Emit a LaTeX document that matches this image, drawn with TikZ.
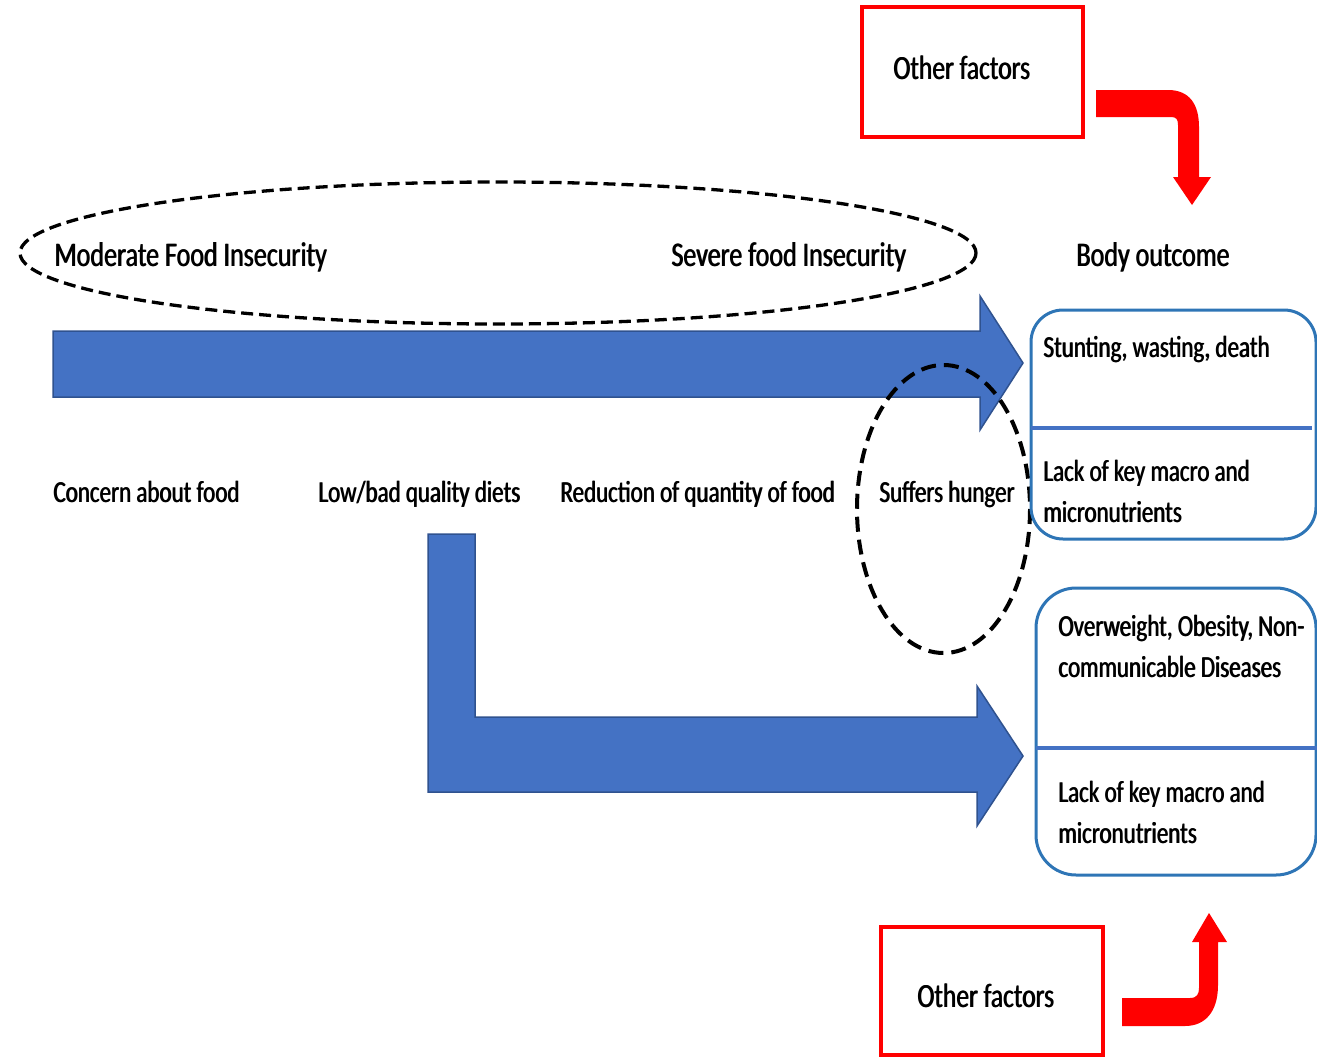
\documentclass[tikz,border=0pt]{standalone}
\usepackage{fontspec}
\setmainfont{Carlito}
\usepackage{graphicx}
\definecolor{blockblue}{HTML}{4472C4}
\definecolor{blockedge}{HTML}{2F528F}
\definecolor{boxblue}{HTML}{2E75B6}
\newcommand{\heavy}[1]{\rlap{#1}\kern0.8pt#1}
\newcommand{\stt}[1]{\scalebox{1}[1.33]{\heavy{#1}}}
\newcommand{\twoline}[2]{\scalebox{1}[1.33]{\vbox{\baselineskip=30.5pt\hbox{\heavy{#1}}\hbox{\heavy{#2}}}}}
\tikzset{
  lbl/.style={inner sep=0pt, anchor=base west, font=\fontsize{23}{28}\selectfont},
  head/.style={inner sep=0pt, anchor=base west, font=\fontsize{26}{31}\selectfont},
  factor/.style={inner sep=0pt, anchor=base west, font=\fontsize{25.5}{30}\selectfont},
  blockarrow/.style={fill=blockblue, draw=blockedge, line width=1.5pt},
  redarrow/.style={fill=red, draw=none},
  redbox/.style={draw=red, line width=3.5pt},
  outbox/.style={draw=boxblue, line width=3pt},
  divider/.style={draw=blockblue, line width=3.5pt},
  dashring/.style={draw=black, line width=3.3pt, dash pattern=on 12pt off 6pt},
  dashcircle/.style={draw=black, line width=4pt, dash pattern=on 15pt off 8pt},
}
\begin{document}
\begin{tikzpicture}[x=1pt, y=-1pt]
\useasboundingbox (0,0) rectangle (1317,1057);

% top other factors
\draw[redbox] (862,7) rectangle (1083,137);
\node[factor] (of1) at (893,80) {\stt{Other factors}};
\fill[redarrow] (1096,90) -- (1168,90) .. controls (1190,90) and (1199,105) .. (1199,127)
  -- (1199,177) -- (1211,177) -- (1192,205) -- (1173,177) -- (1178,177) -- (1178,125)
  .. controls (1178,119) and (1176,117) .. (1171,117) -- (1096,117) -- cycle;

% dashed ellipse with headings
\draw[dashring] (498,253) ellipse [x radius=478, y radius=71];
\node[head] (mod) at (54,266) {\stt{Moderate Food Insecurity}};
\node[head] (sev) at (671,266) {\stt{Severe food Insecurity}};
\node[head] (body) at (1076,266) {\stt{Body outcome}};

% top blue arrow
\draw[blockarrow] (53,331) -- (980,331) -- (980,296) -- (1023,363) -- (980,430)
  -- (980,397) -- (53,397) -- cycle;

% L shaped blue arrow
\draw[blockarrow] (428,534) -- (475,534) -- (475,717) -- (977,717) -- (977,686)
  -- (1023,756) -- (977,826) -- (977,792) -- (428,792) -- cycle;

% row labels
\node[lbl] (concern) at (53,502) {\stt{Concern about food}};
\node[lbl] (lowbad) at (318,502) {\stt{Low/bad quality diets}};
\node[lbl] (reduc) at (560,502) {\stt{Reduction of quantity of food}};
\node[lbl] (hunger) at (879,502) {\stt{Suffers hunger}};

% dashed circle
\draw[dashcircle] (943.5,509) ellipse [x radius=86.5, y radius=144];

% top outcome box
\draw[outbox, rounded corners=32pt] (1031,310) rectangle (1316,539);
\draw[divider] (1031,428) -- (1312,428);
\node[lbl] (stunt) at (1043,357) {\stt{Stunting, wasting, death}};
\node[lbl] (lack1) at (1043,522) {\twoline{Lack of key macro and}{micronutrients}};

% bottom outcome box
\draw[outbox, rounded corners=40pt] (1036,588) rectangle (1316,875);
\draw[divider] (1036,748) -- (1317,748);
\node[lbl] (overw) at (1058,677) {\twoline{Overweight, Obesity, Non-}{communicable Diseases}};
\node[lbl] (lack2) at (1058,843) {\twoline{Lack of key macro and}{micronutrients}};

% bottom other factors
\draw[redbox] (881,927) rectangle (1103,1055);
\node[factor] (of2) at (917,1007) {\stt{Other factors}};
\fill[redarrow] (1122,998) -- (1190,998) .. controls (1197,998) and (1199,994) .. (1199,988)
  -- (1199,942) -- (1192,942) -- (1209,913) -- (1227,942) -- (1218,942) -- (1218,985)
  .. controls (1218,1012) and (1205,1026) .. (1185,1026) -- (1122,1026) -- cycle;
\end{tikzpicture}
\end{document}
